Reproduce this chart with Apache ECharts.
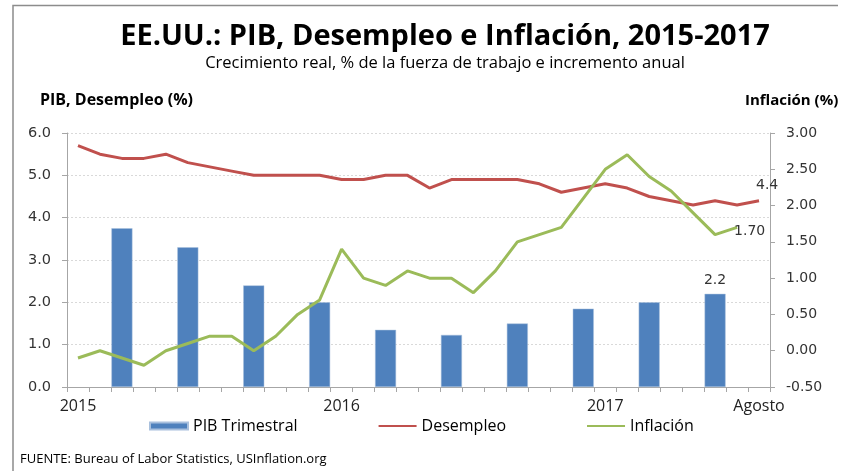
<!DOCTYPE html>
<html>
<head>
<meta charset="utf-8">
<script src="https://cdn.jsdelivr.net/npm/echarts@6/dist/echarts.min.js"></script>
<style>
  html, body { margin: 0; padding: 0; background: #fff; }
  #main { width: 848px; height: 471px; }
</style>
</head>
<body>
<div id="main"></div>
<script>
// meses ene 2015 - ago 2017
var meses = [
  'Ene 2015', 'Feb 2015', 'Mar 2015', 'Abr 2015', 'May 2015', 'Jun 2015',
  'Jul 2015', 'Ago 2015', 'Sep 2015', 'Oct 2015', 'Nov 2015', 'Dic 2015',
  'Ene 2016', 'Feb 2016', 'Mar 2016', 'Abr 2016', 'May 2016', 'Jun 2016',
  'Jul 2016', 'Ago 2016', 'Sep 2016', 'Oct 2016', 'Nov 2016', 'Dic 2016',
  'Ene 2017', 'Feb 2017', 'Mar 2017', 'Abr 2017', 'May 2017', 'Jun 2017',
  'Jul 2017', 'Ago 2017'
];
// etiquetas visibles del eje x
var etiquetasX = { 'Ene 2015': '2015', 'Ene 2016': '2016', 'Ene 2017': '2017', 'Ago 2017': 'Agosto' };

// PIB trimestral (se dibuja en el ultimo mes de cada trimestre)
var pibTrimestres = ['Mar 2015', 'Jun 2015', 'Sep 2015', 'Dic 2015', 'Mar 2016',
                     'Jun 2016', 'Sep 2016', 'Dic 2016', 'Mar 2017', 'Jun 2017'];
var pibValores = [3.75, 3.3, 2.4, 2.0, 1.35, 1.23, 1.5, 1.85, 2.0, 2.2];

// desempleo mensual (%)
var desempleo = [5.7, 5.5, 5.4, 5.4, 5.5, 5.3, 5.2, 5.1, 5.0, 5.0, 5.0, 5.0,
                 4.9, 4.9, 5.0, 5.0, 4.7, 4.9, 4.9, 4.9, 4.9, 4.8, 4.6, 4.7,
                 4.8, 4.7, 4.5, 4.4, 4.3, 4.4, 4.3, 4.4];

// inflacion anual (%), hasta julio 2017
var inflacion = [-0.1, 0.0, -0.1, -0.2, 0.0, 0.1, 0.2, 0.2, 0.0, 0.2, 0.5, 0.7,
                 1.4, 1.0, 0.9, 1.1, 1.0, 1.0, 0.8, 1.1, 1.5, 1.6, 1.7, 2.1,
                 2.5, 2.7, 2.4, 2.2, 1.9, 1.6, 1.7];

var ejeIzq = [0, 6, 1];
var ejeDer = [-0.5, 3, 0.5];

var fuenteTxt = '"Open Sans", sans-serif';
var fuenteNum = '"DejaVu Sans", Verdana, sans-serif';

// barras: array del largo de los meses con huecos
var pibData = meses.map(function (m) {
  var i = pibTrimestres.indexOf(m);
  if (i < 0) return null;
  var item = { value: pibValores[i] };
  if (i === pibValores.length - 1) {
    item.label = { show: true, position: 'top', distance: 7, formatter: function (p) { return p.value.toFixed(1); } };
  }
  return item;
});

var chart = echarts.init(document.getElementById('main'));

chart.setOption({
  backgroundColor: '#fff',
  animation: false,
  title: [
    {
      text: 'EE.UU.: PIB, Desempleo e Inflación, 2015-2017',
      left: 440, top: 17, textAlign: 'center',
      textStyle: { fontFamily: fuenteTxt, fontWeight: 'bold', fontSize: 29, color: '#000' }
    },
    {
      text: 'Crecimiento real, % de la fuerza de trabajo e incremento anual',
      left: 440, top: 50, textAlign: 'center',
      textStyle: { fontFamily: fuenteTxt, fontWeight: 'normal', fontSize: 16.5, color: '#000' }
    },
    {
      text: 'FUENTE: Bureau of Labor Statistics, USInflation.org',
      left: 15, top: 448,
      textStyle: { fontFamily: fuenteTxt, fontWeight: 'normal', fontSize: 13, color: '#000' }
    }
  ],
  graphic: [
    { type: 'polyline', shape: { points: [[13, 471], [13, 5.5], [838, 5.5]] }, style: { stroke: '#8c8c8c', lineWidth: 1.5, fill: null } },
    { type: 'text', left: 40, top: 92, style: { text: 'PIB, Desempleo (%)', font: 'bold 16px "Open Sans", sans-serif', fill: '#000' } },
    { type: 'text', left: 745, top: 93, style: { text: 'Inflación (%)', font: 'bold 15px "Open Sans", sans-serif', fill: '#000' } }
  ],
  legend: {
    left: 149, top: 418, padding: 0,
    itemWidth: 38, itemHeight: 7, itemGap: 80,
    textStyle: { fontFamily: fuenteTxt, fontSize: 16, color: '#000' },
    data: [
      { name: 'PIB Trimestral', icon: 'rect' },
      { name: 'Desempleo', itemStyle: { opacity: 0 } },
      { name: 'Inflación', itemStyle: { opacity: 0 } }
    ]
  },
  grid: { left: 67, right: 78, top: 133, bottom: 84 },
  xAxis: {
    type: 'category',
    data: meses,
    boundaryGap: true,
    axisLine: { lineStyle: { color: '#a6a6a6', width: 1 } },
    axisTick: { show: true, interval: 0, length: 5, lineStyle: { color: '#a6a6a6' } },
    axisLabel: {
      interval: 0, margin: 11,
      fontFamily: fuenteTxt, fontSize: 16, color: '#222',
      formatter: function (v) { return etiquetasX[v] || ''; }
    },
    splitLine: { show: false }
  },
  yAxis: [
    {
      type: 'value', min: ejeIzq[0], max: ejeIzq[1], interval: ejeIzq[2],
      axisLine: { show: true, lineStyle: { color: '#a6a6a6' } },
      axisTick: { show: true, length: 5, lineStyle: { color: '#a6a6a6' } },
      axisLabel: { margin: 16, fontFamily: fuenteNum, fontSize: 14.5, color: '#333',
        formatter: function (v) { return v.toFixed(1); } },
      splitLine: { show: true, lineStyle: { color: '#d9d9d9', type: [2, 2], width: 1 } }
    },
    {
      type: 'value', min: ejeDer[0], max: ejeDer[1], interval: ejeDer[2],
      axisLine: { show: true, lineStyle: { color: '#a6a6a6' } },
      axisTick: { show: true, length: 5, lineStyle: { color: '#a6a6a6' } },
      axisLabel: { margin: 16, fontFamily: fuenteNum, fontSize: 14, color: '#333',
        formatter: function (v) { return v.toFixed(2); } },
      splitLine: { show: false }
    }
  ],
  series: [
    {
      name: 'PIB Trimestral',
      type: 'bar',
      yAxisIndex: 0,
      barWidth: 21,
      itemStyle: { color: '#4f81bd', borderColor: '#a9c0dd', borderWidth: 0.5 },
      label: { fontFamily: fuenteNum, fontSize: 14, color: '#333' },
      data: pibData
    },
    {
      name: 'Desempleo',
      type: 'line',
      yAxisIndex: 0,
      symbol: 'none',
      lineStyle: { color: '#c0504d', width: 3 },
      itemStyle: { color: '#c0504d' },
      endLabel: {
        show: true, distance: 0, offset: [-3, -15],
        fontFamily: fuenteNum, fontSize: 14, color: '#333',
        formatter: function (p) { return p.value.toFixed(1); }
      },
      data: desempleo
    },
    {
      name: 'Inflación',
      type: 'line',
      yAxisIndex: 1,
      symbol: 'none',
      lineStyle: { color: '#9bbb59', width: 3 },
      itemStyle: { color: '#9bbb59' },
      endLabel: {
        show: true, distance: 0, offset: [-3, 4],
        fontFamily: fuenteNum, fontSize: 14, color: '#333',
        formatter: function (p) { return p.value.toFixed(2); }
      },
      data: inflacion
    }
  ]
});
</script>
</body>
</html>
